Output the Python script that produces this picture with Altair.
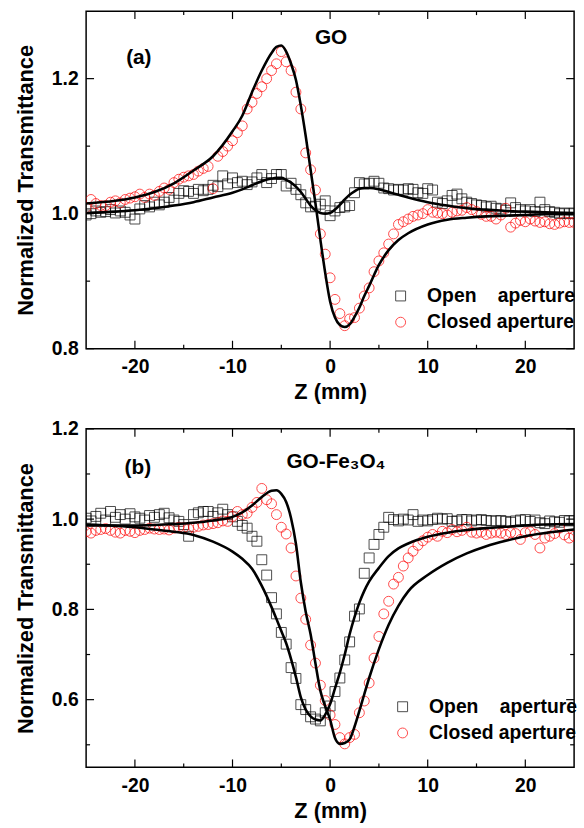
import altair as alt
import pandas as pd

# ---------------------------------------------------------------- data
# Z-scan sample positions (mm)
Z_SCAN = [-25.0, -24.5, -24.0, -23.5, -23.0, -22.5, -22.0, -21.5, -21.0, -20.5,
          -20.0, -19.5, -19.0, -18.5, -18.0, -17.5, -17.0, -16.5, -16.0, -15.5,
          -15.0, -14.5, -14.0, -13.5, -13.0, -12.5, -12.0, -11.5, -11.0, -10.5,
          -10.0, -9.5, -9.0, -8.5, -8.0, -7.5, -7.0, -6.5, -6.0, -5.5,
          -5.0, -4.5, -4.0, -3.5, -3.0, -2.5, -2.0, -1.5, -1.0, -0.5,
          0.0, 0.5, 1.0, 1.5, 2.0, 2.5, 3.0, 3.5, 4.0, 4.5,
          5.0, 5.5, 6.0, 6.5, 7.0, 7.5, 8.0, 8.5, 9.0, 9.5,
          10.0, 10.5, 11.0, 11.5, 12.0, 12.5, 13.0, 13.5, 14.0, 14.5,
          15.0, 15.5, 16.0, 16.5, 17.0, 17.5, 18.0, 18.5, 19.0, 19.5,
          20.0, 20.5, 21.0, 21.5, 22.0, 22.5, 23.0, 23.5, 24.0, 24.5, 25.0]

# (a) GO - measured normalized transmittance
GO_OPEN = [0.998, 1.000, 1.004, 1.002, 1.003, 1.006, 1.001, 1.004, 1.002, 0.998,
           0.992, 1.007, 1.012, 1.010, 1.017, 1.013, 1.017, 1.024, 1.020, 1.030,
           1.034, 1.033, 1.030, 1.036, 1.034, 1.036, 1.042, 1.040, 1.056, 1.044,
           1.053, 1.046, 1.048, 1.043, 1.047, 1.053, 1.058, 1.046, 1.052, 1.058,
           1.058, 1.041, 1.045, 1.036, 1.028, 1.016, 1.010, 1.011, 1.014, 1.019,
           0.997, 1.004, 1.009, 1.010, 1.012, 1.031, 1.046, 1.044, 1.045, 1.048,
           1.045, 1.038, 1.037, 1.035, 1.036, 1.035, 1.037, 1.036, 1.031, 1.030,
           1.037, 1.035, 1.017, 1.015, 1.019, 1.027, 1.029, 1.022, 1.017, 1.015,
           1.013, 1.012, 1.010, 1.011, 1.008, 1.007, 1.005, 1.016, 1.009, 1.006,
           1.004, 1.006, 1.003, 1.017, 1.006, 1.003, 1.002, 1.000, 1.001, 1.000, 1.001]
GO_CLOSED = [1.009, 1.021, 1.015, 1.012, 1.012, 1.017, 1.019, 1.016, 1.021, 1.023,
             1.025, 1.029, 1.024, 1.029, 1.027, 1.033, 1.038, 1.036, 1.046, 1.051,
             1.054, 1.056, 1.058, 1.063, 1.067, 1.070, 1.037, 1.085, 1.092, 1.100,
             1.108, 1.120, 1.130, 1.155, 1.165, 1.178, 1.188, 1.200, 1.212, 1.222,
             1.240, 1.225, 1.212, 1.180, 1.155, 1.090, 1.065, 1.035, 0.970, 0.940,
             0.905, 0.873, 0.852, 0.834, 0.844, 0.846, 0.860, 0.878, 0.890, 0.914,
             0.930, 0.942, 0.955, 0.970, 0.984, 0.988, 0.992, 0.996, 0.998, 1.000,
             1.006, 1.002, 1.001, 1.000, 0.998, 1.002, 1.004, 1.005, 1.009, 1.006,
             1.003, 0.999, 0.996, 0.996, 0.992, 0.998, 1.008, 0.980, 0.986, 0.990,
             0.988, 0.992, 0.989, 0.987, 0.988, 0.985, 0.984, 0.986, 0.988, 0.987, 0.987]

# (b) GO-Fe3O4 - measured normalized transmittance
FE_OPEN = [1.002, 0.996, 1.006, 1.013, 0.998, 1.017, 1.004, 1.010, 1.000, 1.012,
           1.005, 1.002, 0.998, 1.008, 1.004, 1.010, 1.013, 1.003, 0.998, 0.995,
           0.988, 0.962, 1.010, 1.014, 1.017, 1.017, 1.006, 1.014, 1.022, 1.010,
           1.005, 0.995, 0.986, 0.980, 0.962, 0.951, 0.910, 0.876, 0.826, 0.790,
           0.749, 0.723, 0.671, 0.647, 0.589, 0.578, 0.562, 0.557, 0.553, 0.571,
           0.586, 0.618, 0.648, 0.688, 0.728, 0.785, 0.801, 0.880, 0.914, 0.944,
           0.966, 0.982, 1.004, 0.999, 0.996, 1.000, 0.998, 1.010, 0.995, 0.998,
           0.996, 0.999, 1.002, 1.000, 1.001, 0.995, 0.996, 0.999, 0.999, 0.996,
           0.998, 0.999, 0.997, 0.996, 0.996, 0.997, 0.995, 0.993, 0.996, 0.998,
           0.999, 0.995, 0.998, 0.992, 0.990, 0.996, 0.994, 0.993, 0.997, 0.996, 0.997]
FE_CLOSED = [0.972, 0.969, 0.975, 0.977, 0.979, 0.975, 0.971, 0.969, 0.975, 0.973,
             0.970, 0.975, 0.977, 0.980, 0.978, 0.977, 0.978, 0.976, 0.980, 0.982,
             0.981, 0.979, 0.982, 0.984, 0.987, 0.988, 0.990, 0.992, 0.996, 0.995,
             1.006, 1.017, 1.010, 1.013, 1.026, 1.037, 1.068, 1.043, 1.034, 1.010,
             0.982, 0.967, 0.936, 0.874, 0.825, 0.778, 0.721, 0.681, 0.632, 0.598,
             0.566, 0.545, 0.516, 0.502, 0.516, 0.523, 0.571, 0.597, 0.637, 0.692,
             0.740, 0.790, 0.818, 0.856, 0.871, 0.896, 0.914, 0.929, 0.942, 0.952,
             0.960, 0.966, 0.962, 0.973, 0.970, 0.977, 0.972, 0.975, 0.982, 0.971,
             0.969, 0.971, 0.966, 0.969, 0.971, 0.969, 0.966, 0.970, 0.968, 0.955,
             0.970, 0.972, 0.966, 0.936, 0.958, 0.962, 0.968, 0.980, 0.965, 0.958, 0.962]

# theoretical fit curves
Z_FIT = [-25, -22, -20, -18, -16, -14, -12, -10, -9, -8, -7, -6, -5.5, -5, -4.5,
         -4, -3.5, -3, -2.5, -2, -1.5, -1, -0.5, 0, 0.5, 1, 1.5, 2, 2.5, 3, 3.5,
         4, 5, 6, 7, 8, 10, 12, 14, 16, 18, 20, 22, 25]
GO_OPEN_FIT = [1.001, 1.003, 1.005, 1.008, 1.012, 1.017, 1.024, 1.031, 1.036, 1.042,
               1.048, 1.052, 1.053, 1.053, 1.050, 1.046, 1.040, 1.032, 1.022, 1.012,
               1.005, 1.001, 1.000, 1.001, 1.006, 1.013, 1.021, 1.028, 1.033, 1.037,
               1.038, 1.038, 1.036, 1.032, 1.028, 1.024, 1.017, 1.012, 1.008, 1.006,
               1.004, 1.003, 1.002, 1.001]
GO_CLOSED_FIT = [1.015, 1.019, 1.024, 1.032, 1.045, 1.064, 1.085, 1.122, 1.145, 1.180,
                 1.212, 1.238, 1.247, 1.249, 1.240, 1.222, 1.198, 1.160, 1.115, 1.065,
                 1.015, 0.962, 0.912, 0.870, 0.846, 0.835, 0.832, 0.836, 0.847, 0.861,
                 0.878, 0.893, 0.924, 0.946, 0.961, 0.971, 0.984, 0.991, 0.994, 0.996,
                 0.997, 0.998, 0.999, 0.999]
FE_OPEN_FIT = [0.988, 0.985, 0.982, 0.977, 0.972, 0.965, 0.950, 0.928, 0.912, 0.890,
               0.852, 0.805, 0.779, 0.752, 0.725, 0.690, 0.650, 0.605, 0.578, 0.563,
               0.556, 0.554, 0.567, 0.590, 0.625, 0.660, 0.700, 0.745, 0.783, 0.815,
               0.841, 0.862, 0.892, 0.918, 0.935, 0.946, 0.961, 0.970, 0.976, 0.980,
               0.983, 0.986, 0.988, 0.989]
FE_CLOSED_FIT = [0.986, 0.986, 0.986, 0.987, 0.989, 0.992, 0.997, 1.005, 1.015, 1.030,
                 1.049, 1.063, 1.064, 1.056, 1.038, 1.002, 0.945, 0.860, 0.795, 0.745,
                 0.680, 0.620, 0.585, 0.556, 0.515, 0.502, 0.504, 0.512, 0.540, 0.575,
                 0.612, 0.648, 0.712, 0.766, 0.808, 0.840, 0.876, 0.903, 0.924, 0.940,
                 0.952, 0.962, 0.969, 0.977]

OPEN_LABEL = "Open\u00a0\u00a0\u00a0\u00a0aperture"
CLOSED_LABEL = "Closed aperture"

X_MAJOR = [-20, -10, 0, 10, 20]
X_MINOR = [-15, -5, 5, 15]

GO_Y_MAJOR = [0.8, 1.0, 1.2]
GO_Y_MINOR = [0.9, 1.1]
FE_Y_MAJOR = [0.6, 0.8, 1.0, 1.2]
FE_Y_MINOR = [0.5, 0.7, 0.9, 1.1]

GO_NOTES = {"z": [-19.6, 0.1], "T": [1.23, 1.26], "text": ["(a)", "GO"]}
FE_NOTES = {"z": [-19.7, 0.6], "T": [1.113, 1.127], "text": ["(b)", "GO-Fe\u2083O\u2084"]}

# ---------------------------------------------------------------- layout
W = 493
FONT = "Liberation Sans"
MAJOR_LEN = 8
MINOR_LEN = 4


def x_ticks(values, xs, edge, length):
    """Inward tick marks along a horizontal frame edge (edge: pixel row)."""
    df = pd.DataFrame({"z": values})
    y2 = edge - length if edge > 0 else edge + length
    return alt.Chart(df).mark_rule(color="black", strokeWidth=1.2).encode(
        x=alt.X("z:Q", scale=xs, axis=None),
        y=alt.value(edge), y2=alt.value(y2),
    )


def y_ticks(values, ys, edge, length):
    """Inward tick marks along a vertical frame edge (edge: pixel column)."""
    df = pd.DataFrame({"T": values})
    x2 = edge - length if edge > 0 else edge + length
    return alt.Chart(df).mark_rule(color="black", strokeWidth=1.2).encode(
        y=alt.Y("T:Q", scale=ys, axis=None),
        x=alt.value(edge), x2=alt.value(x2),
    )


def panel(open_vals, closed_vals, open_fit, closed_fit, y_dom, y_major, y_minor,
          notes, legend_xy, h):
    xs = alt.Scale(domain=[-25, 25], nice=False, zero=False)
    ys = alt.Scale(domain=y_dom, nice=False, zero=False)
    n = len(Z_SCAN)
    pts = pd.DataFrame({
        "z": Z_SCAN + Z_SCAN,
        "T": open_vals + closed_vals,
        "aperture": [OPEN_LABEL] * n + [CLOSED_LABEL] * n,
    })
    ofit = pd.DataFrame({"z": Z_FIT, "T": open_fit})
    cfit = pd.DataFrame({"z": Z_FIT, "T": closed_fit})
    nt = pd.DataFrame(notes)

    legend = alt.Legend(title=None, orient="none", legendX=legend_xy[0],
                        legendY=legend_xy[1], labelFont=FONT, labelFontSize=19.5,
                        labelFontWeight="bold", labelColor="black", symbolSize=100,
                        symbolStrokeWidth=1, labelOffset=17, rowPadding=5.5,
                        padding=0)
    dom = [OPEN_LABEL, CLOSED_LABEL]

    points = alt.Chart(pts).mark_point(filled=False, strokeWidth=1, size=100,
                                       clip=True).encode(
        x=alt.X("z:Q", scale=xs,
                axis=alt.Axis(orient="bottom", values=X_MAJOR, title="Z (mm)",
                              ticks=False, domain=False, labelPadding=9,
                              titlePadding=6, labelExpr="'' + datum.value")),
        y=alt.Y("T:Q", scale=ys,
                axis=alt.Axis(orient="left", values=y_major,
                              title="Normalized Transmittance", ticks=False,
                              domain=False, format=".1f", labelPadding=8,
                              titlePadding=14)),
        color=alt.Color("aperture:N", scale=alt.Scale(domain=dom, range=["black", "red"]),
                        legend=legend),
        shape=alt.Shape("aperture:N", scale=alt.Scale(domain=dom, range=["square", "circle"]),
                        legend=legend),
    )

    def fit_line(df):
        return alt.Chart(df).mark_line(color="black", strokeWidth=2.6,
                                       interpolate="monotone", clip=True).encode(
            x=alt.X("z:Q", scale=xs, axis=None), y=alt.Y("T:Q", scale=ys, axis=None))

    tags = alt.Chart(nt).mark_text(font=FONT, fontSize=21, fontWeight="bold",
                                   color="black", align="center",
                                   baseline="middle").encode(
        x=alt.X("z:Q", scale=xs, axis=None), y=alt.Y("T:Q", scale=ys, axis=None),
        text="text:N")

    frame_ticks = [
        x_ticks(X_MAJOR, xs, 0, MAJOR_LEN), x_ticks(X_MAJOR, xs, h, MAJOR_LEN),
        x_ticks(X_MINOR, xs, 0, MINOR_LEN), x_ticks(X_MINOR, xs, h, MINOR_LEN),
        y_ticks(y_major, ys, 0, MAJOR_LEN), y_ticks(y_major, ys, W, MAJOR_LEN),
        y_ticks(y_minor, ys, 0, MINOR_LEN), y_ticks(y_minor, ys, W, MINOR_LEN),
    ]

    return alt.layer(points, fit_line(cfit), fit_line(ofit), tags,
                     *frame_ticks).resolve_axis(
        x="independent", y="independent"
    ).properties(width=W, height=h)


top = panel(GO_OPEN, GO_CLOSED, GO_OPEN_FIT, GO_CLOSED_FIT, [0.8, 1.3],
            GO_Y_MAJOR, GO_Y_MINOR, GO_NOTES, (308, 278), 341)
bottom = panel(FE_OPEN, FE_CLOSED, FE_OPEN_FIT, FE_CLOSED_FIT, [0.45, 1.2],
               FE_Y_MAJOR, FE_Y_MINOR, FE_NOTES, (310, 271), 342)

chart = alt.vconcat(top, bottom, spacing=14).resolve_legend(
    color="independent", shape="independent"
).properties(
    padding={"left": 14, "top": 5, "right": 5, "bottom": 0},
    background="white",
).configure_view(
    stroke="black", strokeWidth=1.5
).configure_axis(
    labelFont=FONT, labelFontSize=19.5, labelFontWeight="bold", labelColor="black",
    titleFont=FONT, titleFontSize=22, titleFontWeight="bold", titleColor="black",
    grid=False,
)

chart.save("out.html", embed_options={"renderer": "svg", "actions": False})
